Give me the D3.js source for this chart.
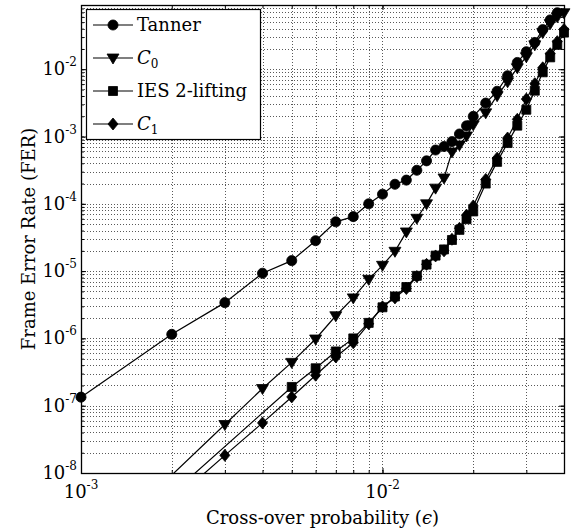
<!DOCTYPE html>
<html lang="en">
  <head>
    <meta charset="UTF-8" />
    <title>Frame Error Rate vs Cross-over probability</title>
    <script src="https://d3js.org/d3.v7.min.js"></script>
    <style>
      body {
        margin: 0;
        background: #fff;
      }
      svg {
        font-family: 'DejaVu Serif', 'Liberation Serif', serif;
      }
      .grid line {
        stroke: #222;
        stroke-width: 1;
        stroke-dasharray: 1, 2;
        opacity: 0.75;
      }
      .series {
        fill: none;
        stroke: #000;
        stroke-width: 1.2;
      }
      .marker {
        fill: #000;
        stroke: #000;
        stroke-width: 0.8;
      }
      .axis path,
      .axis line {
        stroke: #000;
        stroke-width: 1;
      }
      .tick-label {
        font-size: 18px;
      }
      .axis-label {
        font-size: 18px;
      }
      .legend-text {
        font-size: 18px;
      }
    </style>
  </head>
  <body>
    <svg width="578" height="532"></svg>

    <script>
      // values (x = cross-over probability, y = FER)
      const tannerEps = [
        0.001, 0.002, 0.003, 0.004, 0.005, 0.006, 0.007, 0.008, 0.009, 0.01,
        0.011, 0.012, 0.013, 0.014, 0.015, 0.016, 0.017, 0.018, 0.019, 0.02,
        0.022, 0.024, 0.026, 0.028, 0.03, 0.032, 0.034, 0.036, 0.038,
      ];
      const tannerFer = [
        1.34e-7, 1.15e-6, 3.4e-6, 9.3e-6, 1.43e-5, 2.83e-5, 5.4e-5, 6.45e-5,
        1.0e-4, 1.39e-4, 1.95e-4, 2.25e-4, 3.15e-4, 4.35e-4, 6.3e-4, 7.1e-4,
        8.4e-4, 1.09e-3, 1.44e-3, 1.99e-3, 3.14e-3, 4.7e-3, 8.0e-3, 1.26e-2,
        1.82e-2, 2.5e-2, 3.87e-2, 5.4e-2, 6.9e-2,
      ];

      const c0Eps = [
        0.002, 0.003, 0.004, 0.005, 0.006, 0.007, 0.008, 0.009, 0.01, 0.011,
        0.012, 0.013, 0.014, 0.015, 0.016, 0.017, 0.018, 0.019, 0.02, 0.022,
        0.024, 0.026, 0.028, 0.03, 0.032, 0.034, 0.036, 0.038, 0.04,
      ];
      const c0Fer = [
        9.3e-9, 5.25e-8, 1.8e-7, 4.4e-7, 9.8e-7, 2.17e-6, 4.0e-6, 7.55e-6,
        1.22e-5, 1.97e-5, 3.82e-5, 6.1e-5, 1.0e-4, 1.71e-4, 2.42e-4, 5.9e-4,
        7.5e-4, 1.02e-3, 1.49e-3, 2.25e-3, 4.04e-3, 6.5e-3, 1.05e-2, 1.53e-2,
        2.3e-2, 3.5e-2, 4.75e-2, 6.0e-2, 6.9e-2,
      ];

      const iesEps = [
        0.002, 0.005, 0.006, 0.007, 0.008, 0.009, 0.01, 0.011, 0.012, 0.013,
        0.014, 0.015, 0.016, 0.017, 0.018, 0.019, 0.02, 0.022, 0.024, 0.026,
        0.028, 0.03, 0.032, 0.034, 0.036, 0.038, 0.04,
      ];
      const iesFer = [
        4.9e-9, 1.9e-7, 3.6e-7, 6.4e-7, 1.0e-6, 1.7e-6, 2.9e-6, 4.2e-6, 5.8e-6,
        8.5e-6, 1.25e-5, 1.7e-5, 2.1e-5, 2.9e-5, 4.1e-5, 5.9e-5, 7.7e-5, 2.0e-4,
        4.2e-4, 8.0e-4, 1.45e-3, 2.5e-3, 4.8e-3, 9.0e-3, 1.5e-2, 2.3e-2, 3.5e-2,
      ];

      const c1Eps = c0Eps;
      const c1Fer = [
        3.7e-9, 1.83e-8, 5.55e-8, 1.35e-7, 2.84e-7, 5.3e-7, 8.6e-7, 1.65e-6,
        2.95e-6, 4.0e-6, 5.5e-6, 8.3e-6, 1.26e-5, 1.68e-5, 2.0e-5, 2.97e-5,
        4.33e-5, 6.8e-5, 9.3e-5, 2.3e-4, 4.77e-4, 9.5e-4, 1.8e-3, 3.6e-3,
        6.1e-3, 1.05e-2, 1.7e-2, 2.57e-2, 3.9e-2,
      ];

      const xDecades = [1e-3, 1e-2];
      const yDecades = [1e-8, 1e-7, 1e-6, 1e-5, 1e-4, 1e-3, 1e-2];

      const svg = d3.select('svg'),
        width = +svg.attr('width'),
        height = +svg.attr('height');

      const margin = { top: 5, right: 14, bottom: 59, left: 81 };
      const x0 = margin.left,
        x1 = width - margin.right,
        y0 = margin.top,
        y1 = height - margin.bottom;

      const x = d3.scaleLog().domain([1e-3, 0.04]).range([x0, x1]);
      const y = d3.scaleLog().domain([1e-8, 0.09]).range([y1, y0]);

      const xMinor = x.ticks();
      const yMinor = y.ticks();

      // dotted grid
      const grid = svg.append('g').attr('class', 'grid');
      grid
        .selectAll('line.gx')
        .data(xMinor.filter((d) => x(d) > x0 + 1 && x(d) < x1 - 1))
        .join('line')
        .attr('x1', (d) => Math.round(x(d)) + 0.5)
        .attr('x2', (d) => Math.round(x(d)) + 0.5)
        .attr('y1', y0)
        .attr('y2', y1);
      grid
        .selectAll('line.gy')
        .data(yMinor.filter((d) => y(d) > y0 + 1 && y(d) < y1 - 1))
        .join('line')
        .attr('y1', (d) => Math.round(y(d)) + 0.5)
        .attr('y2', (d) => Math.round(y(d)) + 0.5)
        .attr('x1', x0)
        .attr('x2', x1);

      // series
      svg
        .append('clipPath')
        .attr('id', 'plot-clip')
        .append('rect')
        .attr('x', x0)
        .attr('y', y0)
        .attr('width', x1 - x0)
        .attr('height', y1 - y0);

      const markerPath = {
        circle: d3.symbol(d3.symbolCircle, 80)(),
        triangle: 'M-6,-4L6,-4L0,6Z',
        square: 'M-4.5,-4.5h9v9h-9Z',
        diamond: 'M0,-6L5,0L0,6L-5,0Z',
      };

      const series = [
        { name: 'Tanner', eps: tannerEps, fer: tannerFer, marker: 'circle' },
        { name: 'C0', eps: c0Eps, fer: c0Fer, marker: 'triangle' },
        { name: 'IES', eps: iesEps, fer: iesFer, marker: 'square' },
        { name: 'C1', eps: c1Eps, fer: c1Fer, marker: 'diamond' },
      ];

      const line = d3
        .line()
        .x((d) => x(d[0]))
        .y((d) => y(d[1]));

      const plot = svg.append('g');
      series.forEach((s) => {
        const pts = s.eps.map((e, i) => [e, s.fer[i]]);
        plot
          .append('path')
          .attr('class', 'series')
          .attr('clip-path', 'url(#plot-clip)')
          .attr('d', line(pts));
        plot
          .selectAll(null)
          .data(pts.filter((d) => d[1] >= 1e-8 && d[1] <= 0.09))
          .join('path')
          .attr('class', 'marker')
          .attr('transform', (d) => `translate(${x(d[0])},${y(d[1])})`)
          .attr('d', markerPath[s.marker]);
      });

      // axes with inward ticks on all four sides
      function addAxis(axis, tx, ty) {
        svg
          .append('g')
          .attr('class', 'axis')
          .attr('transform', `translate(${tx},${ty})`)
          .call(axis);
      }
      const major = (a) => a.tickSizeInner(-5).tickSizeOuter(0).tickFormat('');
      const minor = (a) => a.tickSizeInner(-3).tickSizeOuter(0).tickFormat('');

      addAxis(minor(d3.axisBottom(x).tickValues(xMinor)), 0, y1);
      addAxis(minor(d3.axisTop(x).tickValues(xMinor)), 0, y0);
      addAxis(minor(d3.axisLeft(y).tickValues(yMinor)), x0, 0);
      addAxis(minor(d3.axisRight(y).tickValues(yMinor)), x1, 0);
      addAxis(major(d3.axisBottom(x).tickValues(xDecades)), 0, y1);
      addAxis(major(d3.axisTop(x).tickValues(xDecades)), 0, y0);
      addAxis(major(d3.axisLeft(y).tickValues(yDecades)), x0, 0);
      addAxis(major(d3.axisRight(y).tickValues(yDecades)), x1, 0);

      // frame
      svg
        .append('rect')
        .attr('x', x0 + 0.5)
        .attr('y', y0 + 0.5)
        .attr('width', x1 - x0)
        .attr('height', y1 - y0)
        .attr('fill', 'none')
        .attr('stroke', '#000')
        .attr('stroke-width', 1.3);

      // tick labels 10^n
      const expOf = (d) => Math.round(Math.log10(d));
      const yLab = svg
        .append('g')
        .selectAll('text')
        .data(yDecades)
        .join('text')
        .attr('class', 'tick-label')
        .attr('x', x0 - 4)
        .attr('y', (d) => y(d) + 6)
        .attr('text-anchor', 'end');
      yLab.append('tspan').text('10');
      yLab
        .append('tspan')
        .attr('dy', -9)
        .attr('font-size', 12)
        .text((d) => '-' + Math.abs(expOf(d)));

      const xLab = svg
        .append('g')
        .selectAll('text')
        .data(xDecades)
        .join('text')
        .attr('class', 'tick-label')
        .attr('x', (d) => x(d))
        .attr('y', y1 + 25)
        .attr('text-anchor', 'middle');
      xLab.append('tspan').text('10');
      xLab
        .append('tspan')
        .attr('dy', -9)
        .attr('font-size', 12)
        .text((d) => '-' + Math.abs(expOf(d)));

      // axis titles
      const xt = svg
        .append('text')
        .attr('class', 'axis-label')
        .attr('x', (x0 + x1) / 2)
        .attr('y', height - 8)
        .attr('text-anchor', 'middle');
      xt.append('tspan').text('Cross-over probability (');
      xt.append('tspan').attr('font-style', 'italic').text('ϵ');
      xt.append('tspan').text(')');

      svg
        .append('text')
        .attr('class', 'axis-label')
        .attr('transform', 'rotate(-90)')
        .attr('x', -(y0 + y1) / 2)
        .attr('y', 35)
        .attr('text-anchor', 'middle')
        .text('Frame Error Rate (FER)');

      // legend
      const lg = svg.append('g');
      lg.append('rect')
        .attr('x', 86.5)
        .attr('y', 9.5)
        .attr('width', 174)
        .attr('height', 130)
        .attr('fill', '#fff')
        .attr('stroke', '#000')
        .attr('stroke-width', 1.2);

      const legendY = [25, 58, 91, 124];
      series.forEach((s, i) => {
        const ly = legendY[i];
        lg.append('line')
          .attr('x1', 93)
          .attr('x2', 133)
          .attr('y1', ly)
          .attr('y2', ly)
          .attr('stroke', '#000')
          .attr('stroke-width', 1.2);
        lg.append('path')
          .attr('class', 'marker')
          .attr('transform', `translate(113,${ly})`)
          .attr('d', markerPath[s.marker]);
        const t = lg
          .append('text')
          .attr('class', 'legend-text')
          .attr('x', 137)
          .attr('y', ly + 6);
        if (s.name === 'C0' || s.name === 'C1') {
          t.append('tspan').attr('font-style', 'italic').text('C');
          t.append('tspan')
            .attr('dy', 4)
            .attr('font-size', 12)
            .text(s.name.slice(1));
        } else if (s.name === 'IES') {
          t.text('IES 2-lifting');
        } else {
          t.text(s.name);
        }
      });
    </script>
  </body>
</html>
